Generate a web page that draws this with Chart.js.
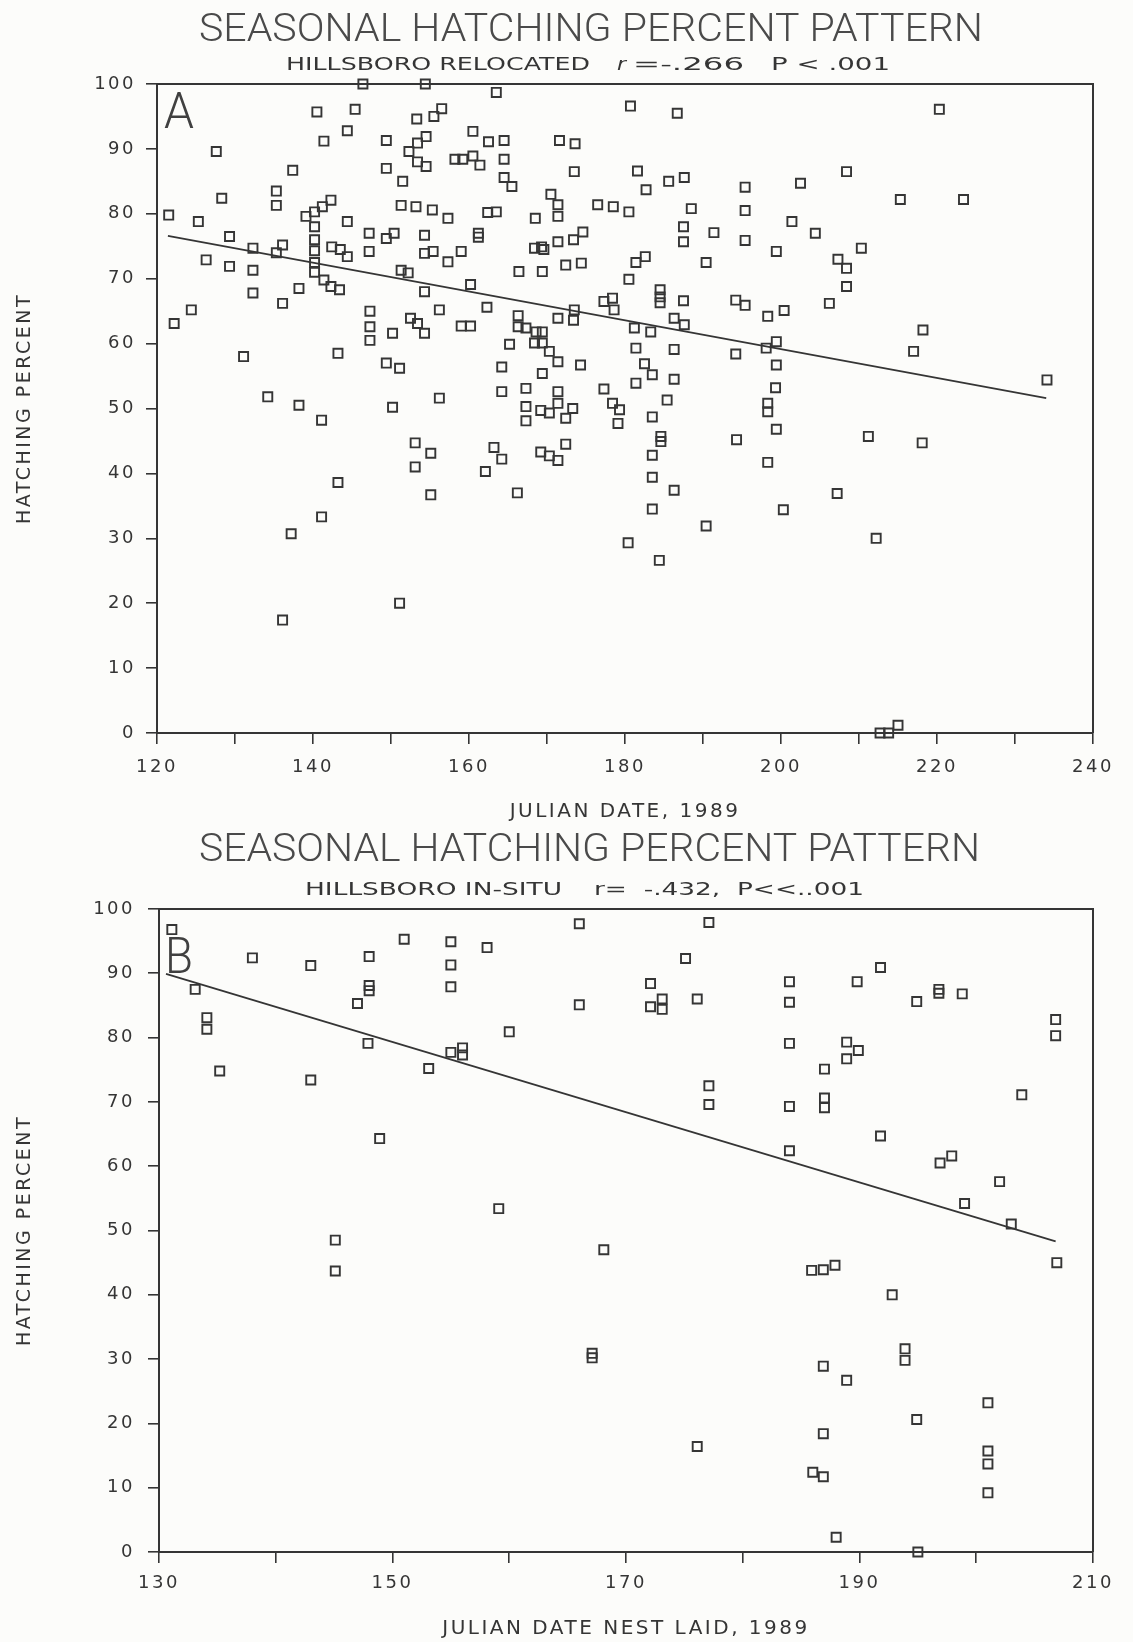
<!DOCTYPE html>
<html>
<head>
<meta charset="utf-8">
<script src="https://cdn.jsdelivr.net/npm/chart.js@4.4.1/dist/chart.umd.min.js"></script>
<style>
  html, body { margin: 0; padding: 0; background: #fcfcfa; }
  #sheet { position: relative; width: 1133px; height: 1642px; overflow: hidden; }
  #sheet canvas { position: absolute; left: 0; }
  #panelA { top: 0; }
  #panelB { top: 820px; }
</style>
</head>
<body>
<div id="sheet">
  <canvas id="panelA" width="1133" height="830"></canvas>
  <canvas id="panelB" width="1133" height="822"></canvas>
</div>
<script>
// ---- Panel A: Hillsboro relocated nests (Julian date, hatching %) ----
const nestDayA = [
  146.4,154.4,140.5,145.4,144.4,141.4,149.4,153.3,155.5,156.5,
  154.5,153.4,152.3,153.4,154.5,158.2,149.4,151.5,127.6,137.4,
  128.3,135.3,135.3,121.5,125.3,129.3,132.3,132.3,132.3,126.3,
  129.3,135.3,136.1,122.2,124.4,131.1,134.2,138.2,136.1,138.2,
  139.1,140.2,141.2,142.3,140.2,140.2,140.2,140.2,140.2,142.4,
  143.5,144.4,141.4,142.3,143.4,144.4,147.2,147.2,149.4,150.4,
  151.3,152.2,154.3,154.3,155.4,157.3,159.0,154.3,156.2,147.3,
  147.3,147.3,150.2,152.5,153.4,154.3,143.2,149.4,151.1,156.2,
  150.2,151.3,153.2,155.3,157.3,
  163.5,180.7,186.7,160.5,162.5,164.5,171.6,173.6,159.2,160.5,
  161.4,164.5,164.5,165.5,173.5,181.6,182.7,185.6,187.6,195.4,
  170.5,171.4,171.4,176.5,178.5,180.5,188.5,195.4,162.4,163.5,
  168.5,187.5,187.5,191.4,195.4,161.2,161.2,168.4,169.3,169.6,
  171.4,173.4,174.6,172.4,174.4,166.4,169.4,181.4,182.6,180.5,
  190.4,160.2,162.3,177.3,178.4,178.6,184.5,184.5,184.5,187.5,
  194.2,195.4,173.5,159.0,160.2,166.3,166.3,167.3,168.6,169.4,
  168.4,169.4,171.4,173.4,165.2,170.3,171.4,174.3,181.2,183.3,
  186.3,187.6,181.4,186.3,194.2,182.5,183.5,181.4,186.3,164.2,
  169.4,164.2,167.3,171.4,177.3,185.4,167.3,171.4,173.3,178.4,
  167.3,169.2,170.3,172.4,179.1,141.1,153.1,155.1,153.1,163.2,
  164.2,162.1,169.2,170.3,171.4,172.4,155.1,166.2,143.2,141.1,
  137.2,151.1,136.1,
  179.3,183.5,184.6,184.6,183.5,183.5,186.3,183.5,180.4,184.4,
  190.4,194.3,198.3,198.3,199.4,198.3,200.3,207.2,211.2,212.2,
  218.1,212.7,213.8,215.0,
  220.3,208.4,202.5,215.3,223.4,201.4,204.4,199.4,210.3,207.3,
  208.4,208.4,206.2,198.3,200.4,218.2,217.0,198.1,199.4,199.4,
  199.3,234.1
];
const hatchPctA = [
  100,100,95.7,96.1,92.8,91.2,91.3,94.6,95.0,96.2,
  91.9,90.9,89.6,88.0,87.3,88.4,87.0,85.0,89.6,86.7,
  82.4,83.5,81.3,79.8,78.8,76.5,74.7,71.3,67.8,72.9,
  71.9,74.0,75.2,63.1,65.2,58.0,51.8,50.5,66.2,68.5,
  79.6,80.3,81.1,82.1,78.0,76.0,74.3,72.5,71.0,74.9,
  74.5,73.4,69.8,68.8,68.3,78.8,77.0,74.2,76.2,77.0,
  71.3,70.9,76.7,73.9,74.2,72.6,74.2,68.0,65.2,65.0,
  62.6,60.5,61.6,63.9,63.1,61.6,58.5,57.0,56.2,51.6,
  50.2,81.3,81.1,80.6,79.3,
  98.7,96.6,95.5,92.7,91.1,91.3,91.3,90.8,88.4,88.9,
  87.5,88.4,85.6,84.2,86.5,86.6,83.7,85.0,85.6,84.1,
  83.0,81.4,79.6,81.4,81.1,80.3,80.8,80.5,80.2,80.3,
  79.3,78.0,75.7,77.1,75.9,77.0,76.4,74.7,74.9,74.5,
  75.7,76.0,77.2,72.1,72.4,71.1,71.1,72.5,73.4,69.9,
  72.5,69.1,65.6,66.5,67.0,65.2,68.3,67.2,66.3,66.6,
  66.7,65.9,65.2,62.7,62.7,64.3,62.6,62.4,61.8,61.8,
  60.1,60.1,63.9,63.6,59.9,58.8,57.2,56.7,62.4,61.8,
  63.9,62.9,59.3,59.1,58.4,56.9,55.2,53.9,54.5,56.4,
  55.4,52.6,53.1,52.6,53.0,51.3,50.3,50.8,50.0,50.8,
  48.1,49.7,49.3,48.5,47.7,48.2,44.7,43.1,41.0,44.0,
  42.2,40.3,43.3,42.7,42.0,44.5,36.7,37.0,38.6,33.3,
  30.7,20.0,17.4,
  49.8,48.7,45.7,44.9,42.8,39.4,37.4,34.5,29.3,26.6,
  31.9,45.2,50.8,49.5,46.8,41.7,34.4,36.9,45.7,30.0,
  44.7,0,0,1.2,
  96.1,86.5,84.7,82.2,82.2,78.8,77.0,74.2,74.7,73.0,
  71.6,68.8,66.2,64.2,65.1,62.1,58.8,59.3,60.3,56.7,
  53.2,54.4
];
// Least-squares line for panel A (end points)
const fitDayA = [121.4, 234.0];
const fitPctA = [76.6, 51.6];
const dayLabelsA = [120, 140, 160, 180, 200, 220, 240];

// ---- Panel B: Hillsboro in-situ nests ----
const nestDayB = [
  131.1,133.1,134.1,134.1,135.2,138.0,143.0,143.0,145.1,145.1,
  148.0,148.0,148.0,147.0,147.9,148.9,151.0,155.0,155.0,155.0,
  155.0,156.0,156.0,153.1,158.1,159.1,160.0,166.0,166.0,167.1,
  167.1,168.1,172.1,172.1,173.1,173.1,175.1,176.1,177.1,177.1,
  177.1,176.1,184.0,184.0,184.0,184.0,184.0,189.8,191.8,188.9,
  188.9,189.9,187.0,187.0,187.0,191.8,194.9,196.8,196.8,198.8,
  206.8,206.8,203.9,196.9,197.9,202.0,199.0,203.0,206.9,185.9,
  186.9,187.9,192.8,193.9,193.9,186.9,188.9,201.0,194.9,186.9,
  201.0,201.0,201.0,186.0,186.9,188.0,195.0
];
const hatchPctB = [
  96.8,87.5,83.1,81.3,74.8,92.4,91.2,73.4,48.5,43.7,
  92.6,88.1,87.3,85.3,79.1,64.3,95.3,94.9,91.3,87.9,
  77.7,78.4,77.3,75.2,94.0,53.4,80.9,97.7,85.1,30.9,
  30.2,47.0,88.4,84.8,86.0,84.4,92.3,86.0,97.9,72.5,
  69.6,16.4,88.7,85.5,79.1,69.3,62.4,88.7,90.9,79.3,
  76.7,78.0,75.1,70.6,69.1,64.7,85.6,87.5,86.9,86.8,
  82.8,80.3,71.1,60.5,61.6,57.6,54.2,51.0,45.0,43.8,
  43.9,44.6,40.0,31.6,29.8,28.9,26.7,23.2,20.6,18.4,
  15.7,13.7,9.2,12.4,11.7,2.3,0
];
const fitDayB = [130.6, 206.8];
const fitPctB = [89.9, 48.3];
const dayLabelsB = [130, 150, 170, 190, 210];

const pctTicks = [0, 10, 20, 30, 40, 50, 60, 70, 80, 90, 100];

// ---- drawing helpers ----
const INK = '#353535';
const PLOT_FONT = '"DejaVu Sans", "Liberation Sans", sans-serif';

// Wide, evenly spaced lettering for everything the scales draw
const spacingPlugin = {
  id: 'plotterSpacing',
  beforeDraw(chart) { chart.ctx.letterSpacing = '2.5px'; },
  afterDraw(chart) { chart.ctx.letterSpacing = '0px'; }
};

// Closed frame: top and right edges of the plotting area
const framePlugin = {
  id: 'frame',
  beforeDatasetsDraw(chart) {
    const { ctx, chartArea: a } = chart;
    ctx.save();
    ctx.strokeStyle = INK;
    ctx.lineWidth = 2;
    ctx.beginPath();
    ctx.moveTo(a.left, a.top);
    ctx.lineTo(a.right, a.top);
    ctx.lineTo(a.right, a.bottom);
    ctx.stroke();
    ctx.restore();
  }
};

// Heading lines, each stretched between a left and right edge
function headingPlugin(lines) {
  return {
    id: 'heading',
    afterDraw(chart) {
      const ctx = chart.ctx;
      lines.forEach(s => {
        ctx.save();
        ctx.letterSpacing = '0px';
        ctx.font = s.font;
        ctx.fillStyle = s.color || INK;
        ctx.textAlign = 'left';
        ctx.textBaseline = 'alphabetic';
        const w = ctx.measureText(s.text).width;
        ctx.translate(s.x0, s.y + s.cap / 2);
        ctx.scale((s.x1 - s.x0) / w, 1);
        ctx.fillText(s.text, 0, 0);
        ctx.restore();
      });
    }
  };
}

function makePanel(canvasId, p) {
  const points = p.days.map((d, i) => ({ x: d, y: p.pct[i] }));
  const fit = p.fitDay.map((d, i) => ({ x: d, y: p.fitPct[i] }));
  const canvas = document.getElementById(canvasId);
  const H = canvas.height;
  return new Chart(canvas, {
    type: 'scatter',
    data: {
      datasets: [
        {
          label: 'Nests',
          data: points,
          pointStyle: 'rect',
          pointRadius: 6.4,
          pointHoverRadius: 6.4,
          borderColor: INK,
          backgroundColor: 'rgba(0,0,0,0)',
          borderWidth: 1.9,
          clip: false
        },
        {
          label: 'Regression',
          data: fit,
          showLine: true,
          pointRadius: 0,
          borderColor: INK,
          borderWidth: 1.8,
          fill: false,
          tension: 0
        }
      ]
    },
    options: {
      responsive: false,
      animation: false,
      events: [],
      layout: { padding: { top: p.top, right: 40, bottom: 0, left: 0 } },
      plugins: { legend: { display: false }, tooltip: { enabled: false }, title: { display: false } },
      scales: {
        x: {
          type: 'linear',
          min: p.xMin, max: p.xMax,
          afterFit(scale) { scale.height = H - p.bottom; },
          border: { display: true, color: INK, width: 2 },
          grid: { drawOnChartArea: false, drawTicks: true, tickLength: 11, color: INK, lineWidth: 1.6 },
          ticks: {
            stepSize: 10, autoSkip: false, maxRotation: 0, minRotation: 0,
            padding: p.xTickPad, color: INK,
            font: { family: PLOT_FONT, size: 18 },
            callback: v => (p.dayLabels.includes(v) ? String(v) : '')
          },
          title: {
            display: true, text: p.xTitle, color: INK,
            font: { family: PLOT_FONT, size: 20 },
            padding: { top: 0, bottom: p.xTitlePad }
          }
        },
        y: {
          type: 'linear',
          min: 0, max: 100,
          afterFit(scale) { scale.width = p.left; },
          border: { display: true, color: INK, width: 2 },
          grid: { drawOnChartArea: false, drawTicks: true, tickLength: 11, color: INK, lineWidth: 1.6 },
          afterBuildTicks(scale) { scale.ticks = pctTicks.map(v => ({ value: v })); },
          ticks: {
            padding: p.yTickPad, color: INK,
            font: { family: PLOT_FONT, size: 18 },
            callback: v => String(v)
          },
          title: {
            display: true, text: 'HATCHING PERCENT', color: INK,
            font: { family: PLOT_FONT, size: 19 },
            padding: { top: 14, bottom: 0 }
          }
        }
      }
    },
    plugins: [spacingPlugin, framePlugin, headingPlugin(p.heading)]
  });
}

const TITLE_FONT = '300 39px Roboto, "Liberation Sans", sans-serif';
const SUB_FONT = '17px "DejaVu Sans", sans-serif';
const SUB_ITALIC = 'italic 17px "DejaVu Sans", sans-serif';
const LETTER_FONT = '300 50px Roboto, "Liberation Sans", sans-serif';

makePanel('panelA', {
  days: nestDayA, pct: hatchPctA, fitDay: fitDayA, fitPct: fitPctA,
  xMin: 120, xMax: 240, dayLabels: dayLabelsA,
  top: 84, bottom: 733, left: 157,
  xTickPad: 13, yTickPad: 10, xTitlePad: 6,
  xTitle: 'JULIAN DATE, 1989',
  heading: [
    { text: 'SEASONAL HATCHING PERCENT PATTERN', x0: 199, x1: 983, y: 27, cap: 27.7, font: TITLE_FONT, color: '#4a4a4a' },
    { text: 'HILLSBORO RELOCATED', x0: 286, x1: 590, y: 64, cap: 12.4, font: SUB_FONT },
    { text: 'r', x0: 617, x1: 626, y: 64, cap: 12.4, font: SUB_ITALIC },
    { text: '=-.266', x0: 633, x1: 744, y: 64, cap: 12.4, font: SUB_FONT },
    { text: 'P < .001', x0: 771, x1: 890, y: 64, cap: 12.4, font: SUB_FONT },
    { text: 'A', x0: 164, x1: 194, y: 110, cap: 35.5, font: LETTER_FONT, color: '#404040' }
  ]
});

makePanel('panelB', {
  days: nestDayB, pct: hatchPctB, fitDay: fitDayB, fitPct: fitPctB,
  xMin: 130, xMax: 210, dayLabels: dayLabelsB,
  top: 89, bottom: 732, left: 159,
  xTickPad: 10, yTickPad: 13, xTitlePad: 1,
  xTitle: 'JULIAN DATE NEST LAID, 1989',
  heading: [
    { text: 'SEASONAL HATCHING PERCENT PATTERN', x0: 199, x1: 980, y: 27, cap: 27.7, font: TITLE_FONT, color: '#4a4a4a' },
    { text: 'HILLSBORO IN-SITU', x0: 305, x1: 562, y: 69, cap: 12.4, font: SUB_FONT },
    { text: 'r=  -.432,  P<<..001', x0: 594, x1: 864, y: 69, cap: 12.4, font: SUB_FONT },
    { text: 'B', x0: 165, x1: 193, y: 136, cap: 33, font: LETTER_FONT, color: '#404040' }
  ]
});
</script>
</body>
</html>
